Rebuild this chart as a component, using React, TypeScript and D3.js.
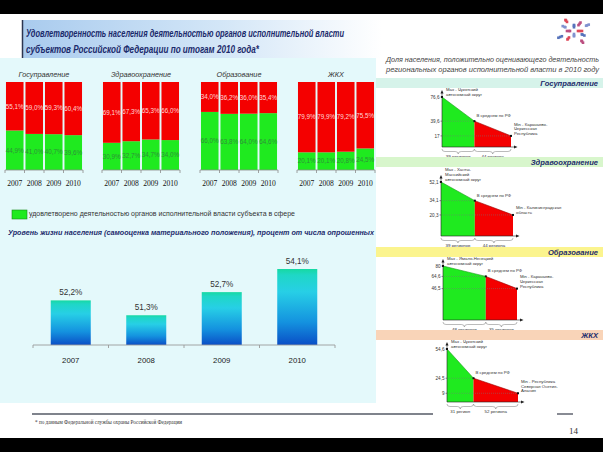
import React from 'react';
import * as d3 from 'd3';

const W = 603;
const H = 452;

// ---------- data ----------
const years = ['2007', '2008', '2009', '2010'];
const sectors = ['Госуправление', 'Здравоохранение', 'Образование', 'ЖКХ'];

const satisfiedGov = [44.9, 41.0, 40.7, 39.6];
const satisfiedHealth = [30.9, 32.7, 34.7, 34.0];
const satisfiedEdu = [66.0, 63.8, 64.0, 64.6];
const satisfiedHousing = [20.1, 20.1, 20.8, 24.5];

const unsatisfiedGov = [55.1, 59.0, 59.3, 60.4];
const unsatisfiedHealth = [69.1, 67.3, 65.3, 66.0];
const unsatisfiedEdu = [34.0, 36.2, 36.0, 35.4];
const unsatisfiedHousing = [79.9, 79.9, 79.2, 75.5];

const livingLevel = [52.2, 51.3, 52.7, 54.1];

const regionMax = [76.6, 52.1, 80, 54.6];
const regionAvg = [39.6, 34.1, 64.6, 24.5];
const regionMin = [17, 20.3, 46.5, 9];
const regionsAbove = [39, 39, 48, 31];
const regionsBelow = [44, 44, 35, 52];
const aboveLabels = ['39 регионов', '39 регионов', '48 регионов', '31 регион'];
const belowLabels = ['44 региона', '44 региона', '35 регионов', '52 региона'];
const maxLabels = [
  ['Max - Чукотский', 'автономный округ'],
  ['Max - Ханты-', 'Мансийский', 'автономный округ'],
  ['Max - Ямало-Ненецкий', 'автономный округ'],
  ['Max - Чукотский', 'автономный округ'],
];
const minLabels = [
  ['Min - Карачаево-', 'Черкесская', 'Республика'],
  ['Min - Калининградская', 'область'],
  ['Min - Карачаево-', 'Черкесская', 'Республика'],
  ['Min - Республика', 'Северная Осетия-', 'Алания'],
];
const avgLabel = 'В среднем по РФ';

const titleLines = [
  'Удовлетворенность населения деятельностью органов исполнительной власти',
  'субъектов Российской Федерации по итогам 2010 года*',
];
const legendText = 'удовлетворено деятельностью органов исполнительной власти субъекта в сфере';
const livingTitle =
  'Уровень жизни населения (самооценка материального положения), процент от числа опрошенных';
const rightTitle = [
  'Доля населения, положительно оценивающего деятельность',
  'региональных органов исполнительной власти в 2010 году',
];
const footnote = '* по данным Федеральной службы охраны Российской Федерации';
const pageNumber = '14';

// ---------- layout ----------
const SANS = '"Liberation Sans", Arial, sans-serif';
const SERIF = '"Liberation Serif", "Times New Roman", serif';
const NAVY = '#1b2a6b';
const GREEN = '#1fea1f';
const RED = '#f40000';

const groupX = [5, 102, 200, 297];
const groupW = 78;
const stackTop = 82;
const stackBase = 170;

const panelLayout = [
  { band: 78, bandColor: '#d6f3ea', x0: 442, x1: 511, base: 147, top: 97 },
  { band: 157, bandColor: '#d8f6cc', x0: 441, x1: 513, base: 236, top: 182 },
  { band: 247, bandColor: '#fbf48e', x0: 443, x1: 517, base: 320, top: 266 },
  { band: 330, bandColor: '#f9d4b8', x0: 447, x1: 518, base: 402, top: 349 },
];

const fmtPct = (v: number) => d3.format('.1f')(v).replace('.', ',') + '%';
const fmtNum = (v: number) =>
  Number.isInteger(v) ? String(v) : d3.format('.1f')(v).replace('.', ',');

function StackGroup({ gi }: { gi: number }) {
  const sat = [satisfiedGov, satisfiedHealth, satisfiedEdu, satisfiedHousing][gi];
  const uns = [unsatisfiedGov, unsatisfiedHealth, unsatisfiedEdu, unsatisfiedHousing][gi];
  const gx = groupX[gi];
  const x = d3.scaleBand<string>().domain(years).range([gx, gx + groupW]).paddingInner(0.1).paddingOuter(0.05);
  const y = d3.scaleLinear().domain([0, 100]).range([stackBase, stackTop]);
  const bw = x.bandwidth();
  const half = (x.step() * x.paddingInner()) / 2;
  const bounds = years.map((yr) => (x(yr) as number) - half);
  bounds.push((x(years[3]) as number) + bw + half);
  return (
    <g>
      <text x={gx + groupW / 2} y={77} textAnchor="middle" fontFamily={SANS} fontStyle="italic" fontSize={7.3} fill="#333">
        {sectors[gi]}
      </text>
      {years.map((yr, i) => {
        const bx = x(yr) as number;
        const yS = y(sat[i]);
        const yU = y(sat[i] + uns[i]);
        return (
          <g key={yr}>
            <rect x={bx} y={yS} width={bw} height={stackBase - yS} fill={GREEN} />
            <rect x={bx} y={yU} width={bw} height={yS - yU} fill={RED} />
            <text x={bx + bw / 2} y={(yS + yU) / 2 + 2.3} textAnchor="middle" fontFamily={SANS} fontSize={6.3} fill="#ffd6d6">
              {fmtPct(uns[i])}
            </text>
            <text x={bx + bw / 2} y={(yS + stackBase) / 2 + 2.3} textAnchor="middle" fontFamily={SANS} fontSize={6.3} fill="#2f8f3a">
              {fmtPct(sat[i])}
            </text>
            <text x={bx + bw / 2} y={186} textAnchor="middle" fontFamily={SERIF} fontSize={7.6} fill="#111">
              {yr}
            </text>
          </g>
        );
      })}
      <line x1={bounds[0]} x2={bounds[4]} y1={stackBase} y2={stackBase} stroke="#8a8a8a" strokeWidth={0.8} />
      {bounds.map((b, i) => (
        <line key={i} x1={b} x2={b} y1={stackBase} y2={stackBase + 3} stroke="#8a8a8a" strokeWidth={0.8} />
      ))}
    </g>
  );
}

function LivingChart() {
  const x = d3.scaleBand<string>().domain(years).range([33, 335]).paddingInner(0.47).paddingOuter(0.235);
  const y = d3.scaleLinear().domain([49.5, 54.1]).range([345, 269]);
  const half = (x.step() * x.paddingInner()) / 2;
  const bounds = years.map((yr) => (x(yr) as number) - half);
  bounds.push((x(years[3]) as number) + x.bandwidth() + half);
  return (
    <g>
      {years.map((yr, i) => {
        const bx = x(yr) as number;
        const top = y(livingLevel[i]);
        return (
          <g key={yr}>
            <rect x={bx} y={top} width={x.bandwidth()} height={y(49.5) - top} fill="url(#blueGrad)" />
            <text x={bx + x.bandwidth() / 2} y={top - 5} textAnchor="middle" fontFamily={SANS} fontSize={8.2} fill="#333">
              {fmtPct(livingLevel[i])}
            </text>
            <text x={bx + x.bandwidth() / 2} y={363} textAnchor="middle" fontFamily={SANS} fontSize={7.8} fill="#222">
              {yr}
            </text>
          </g>
        );
      })}
      <line x1={bounds[0]} x2={bounds[4]} y1={345} y2={345} stroke="#9a9a9a" strokeWidth={0.9} />
      {bounds.map((b, i) => (
        <line key={i} x1={b} x2={b} y1={345} y2={348} stroke="#9a9a9a" strokeWidth={0.9} />
      ))}
    </g>
  );
}

function Brace({ xa, xb, y }: { xa: number; xb: number; y: number }) {
  const m = (xa + xb) / 2;
  const d = `M${xa},${y} Q${xa},${y + 2.5} ${xa + 3},${y + 2.5} L${m - 3},${y + 2.5} Q${m},${y + 2.5} ${m},${y + 5} Q${m},${y + 2.5} ${m + 3},${y + 2.5} L${xb - 3},${y + 2.5} Q${xb},${y + 2.5} ${xb},${y}`;
  return <path d={d} fill="none" stroke="#777" strokeWidth={0.5} />;
}

function RegionPanel({ pi }: { pi: number }) {
  const L = panelLayout[pi];
  const total = regionsAbove[pi] + regionsBelow[pi];
  const x = d3.scaleLinear().domain([0, total]).range([L.x0, L.x1]);
  const y = d3.scaleLinear().domain([0, regionMax[pi]]).range([L.base, L.top]);
  const xA = x(regionsAbove[pi]);
  const xE = x(total);
  const yMax = y(regionMax[pi]);
  const yAvg = y(regionAvg[pi]);
  const yMin = y(regionMin[pi]);
  const area = d3.line();
  const green = area([[L.x0, L.base], [L.x0, yMax], [xA, yAvg], [xA, L.base]]) + 'Z';
  const red = area([[xA, L.base], [xA, yAvg], [xE, yMin], [xE, L.base]]) + 'Z';
  const fs = 4.3;
  const mins = minLabels[pi];
  const maxs = maxLabels[pi];
  return (
    <g>
      <rect x={376} y={L.band} width={W - 376} height={10} fill={L.bandColor} />
      <text x={598} y={L.band + 8} textAnchor="end" fontFamily={SANS} fontWeight="bold" fontStyle="italic" fontSize={7.6} fill={NAVY}>
        {sectors[pi]}
      </text>
      <path d={green} fill={GREEN} />
      <path d={red} fill={RED} />
      <line x1={L.x0} y1={yMax} x2={xA} y2={yAvg} stroke="#1a9a1a" strokeWidth={0.6} />
      <line x1={xA} y1={yAvg} x2={xE} y2={yMin} stroke="#9a0000" strokeWidth={0.6} />
      <line x1={L.x0} x2={xA} y1={yAvg} y2={yAvg} stroke="#777" strokeWidth={0.5} strokeDasharray="1,1" />
      <line x1={L.x0} x2={xE} y1={yMin} y2={yMin} stroke="#777" strokeWidth={0.5} strokeDasharray="1,1" />
      <line x1={L.x0} x2={L.x0} y1={L.base} y2={yMax - 5} stroke="#222" strokeWidth={0.6} />
      <path d={`M${L.x0 - 1.5},${yMax - 3.5} L${L.x0},${yMax - 7} L${L.x0 + 1.5},${yMax - 3.5}Z`} fill="#222" />
      <line x1={L.x0} x2={xE + 4} y1={L.base} y2={L.base} stroke="#222" strokeWidth={0.6} />
      <path d={`M${xE + 3},${L.base - 1.5} L${xE + 6.5},${L.base} L${xE + 3},${L.base + 1.5}Z`} fill="#222" />
      {[regionMax[pi], regionAvg[pi], regionMin[pi]].map((v, i) => (
        <g key={i}>
          <line x1={L.x0 - 1.5} x2={L.x0} y1={y(v)} y2={y(v)} stroke="#222" strokeWidth={0.5} />
          <text x={L.x0 - 2.5} y={y(v) + 1.6} textAnchor="end" fontFamily={SANS} fontSize={4.6} fill="#333">
            {fmtNum(v)}
          </text>
        </g>
      ))}
      {[[L.x0, yMax], [xA, yAvg], [xE, yMin]].map(([px, py], i) => (
        <rect key={i} x={px - 1} y={py - 1} width={2} height={2} fill="#111" />
      ))}
      {maxs.map((t, i) => (
        <text key={i} x={L.x0 + 4} y={yMax - 6 + i * 4.6 - (maxs.length - 2) * 4.6} fontFamily={SANS} fontSize={fs} fill="#333">
          {t}
        </text>
      ))}
      <text x={xA + 2} y={yAvg - 4} fontFamily={SANS} fontSize={fs} fill="#333">
        {avgLabel}
      </text>
      {mins.map((t, i) => (
        <text key={i} x={xE + 3} y={yMin - 1 - (mins.length - 1 - i) * 4.6} fontFamily={SANS} fontSize={fs} fill="#333">
          {t}
        </text>
      ))}
      <Brace xa={L.x0} xb={xA} y={L.base + 2} />
      <Brace xa={xA} xb={xE} y={L.base + 2} />
      <text x={(L.x0 + xA) / 2} y={L.base + 11} textAnchor="middle" fontFamily={SANS} fontSize={4.4} fill="#333">
        {aboveLabels[pi]}
      </text>
      <text x={(xA + xE) / 2} y={L.base + 11} textAnchor="middle" fontFamily={SANS} fontSize={4.4} fill="#333">
        {belowLabels[pi]}
      </text>
    </g>
  );
}

function Logo() {
  const cx = 574;
  const cy = 31;
  const dots = d3.range(36).map((i) => {
    const ring = i % 3;
    const ang = (i / 36) * Math.PI * 2 * 3;
    const r = 4 + ring * 5 + (i % 5);
    return {
      x: cx + Math.cos(ang) * r,
      y: cy + Math.sin(ang) * r * 0.75,
      c: ['#d8283c', '#3a5bb0', '#b0306a', '#6a7fc8'][i % 4],
    };
  });
  return (
    <g opacity={0.85}>
      {dots.map((d, i) => (
        <rect key={i} x={d.x - 1.3} y={d.y - 1.3} width={2.6} height={2.6} fill={d.c} />
      ))}
    </g>
  );
}

export default function App() {
  return (
    <svg
      width={W}
      height={H}
      viewBox={`0 0 ${W} ${H}`}
      style={{ position: 'absolute', left: 0, top: 0, display: 'block' }}
    >
      <defs>
        <linearGradient id="titleGrad" x1="0" x2="1" y1="0" y2="0">
          <stop offset="0" stopColor="#a9cbee" />
          <stop offset="0.55" stopColor="#d3e6f7" />
          <stop offset="1" stopColor="#ffffff" />
        </linearGradient>
        <linearGradient id="blueGrad" x1="0" x2="0" y1="0" y2="1">
          <stop offset="0" stopColor="#16d9a2" />
          <stop offset="0.08" stopColor="#1fd7c6" />
          <stop offset="0.3" stopColor="#27cfe6" />
          <stop offset="0.7" stopColor="#1492df" />
          <stop offset="1" stopColor="#0a4ec6" />
        </linearGradient>
      </defs>
      <rect x={0} y={0} width={W} height={H} fill="#ffffff" />
      <rect x={0} y={0} width={W} height={14} fill="#000" />
      <rect x={0} y={438} width={W} height={H - 438} fill="#000" />

      <rect x={22} y={20} width={360} height={38} fill="url(#titleGrad)" />
      <line x1={22.5} x2={22.5} y1={20} y2={58} stroke="#2c3550" strokeWidth={1.5} />
      {titleLines.map((t, i) => (
        <text
          key={i}
          x={26}
          y={37 + i * 16}
          fontFamily={SANS}
          fontWeight="bold"
          fontStyle="italic"
          fontSize={10.4}
          fill={NAVY}
          textLength={i === 0 ? 318 : 233}
          lengthAdjust="spacingAndGlyphs"
        >
          {t}
        </text>
      ))}
      <Logo />

      <rect x={0} y={58} width={376} height={345} fill="#e4f9fb" />

      {[0, 1, 2, 3].map((gi) => (
        <StackGroup key={gi} gi={gi} />
      ))}

      <rect x={12} y={210} width={15} height={9} fill={GREEN} stroke="#1a8a1a" strokeWidth={0.6} />
      <text x={29} y={216} fontFamily={SANS} fontSize={6.4} fill="#333" textLength={266} lengthAdjust="spacingAndGlyphs">
        {legendText}
      </text>
      <text x={8} y={235} fontFamily={SANS} fontWeight="bold" fontStyle="italic" fontSize={7.4} fill={NAVY} textLength={366} lengthAdjust="spacingAndGlyphs">
        {livingTitle}
      </text>

      <LivingChart />

      {rightTitle.map((t, i) => (
        <text key={i} x={386} y={62 + i * 10} fontFamily={SANS} fontStyle="italic" fontSize={6.6} fill="#444" textLength={213} lengthAdjust="spacingAndGlyphs">
          {t}
        </text>
      ))}
      {[0, 1, 2, 3].map((pi) => (
        <RegionPanel key={pi} pi={pi} />
      ))}

      <line x1={32} x2={433} y1={414} y2={414} stroke="#555a66" strokeWidth={1.4} />
      <line x1={557} x2={573} y1={414} y2={414} stroke="#555a66" strokeWidth={1.4} />
      <text x={35} y={424} fontFamily={SERIF} fontSize={5.2} fill="#333">
        {footnote}
      </text>
      <text x={578} y={434} textAnchor="end" fontFamily={SERIF} fontSize={9} fill="#333">
        {pageNumber}
      </text>
    </svg>
  );
}
